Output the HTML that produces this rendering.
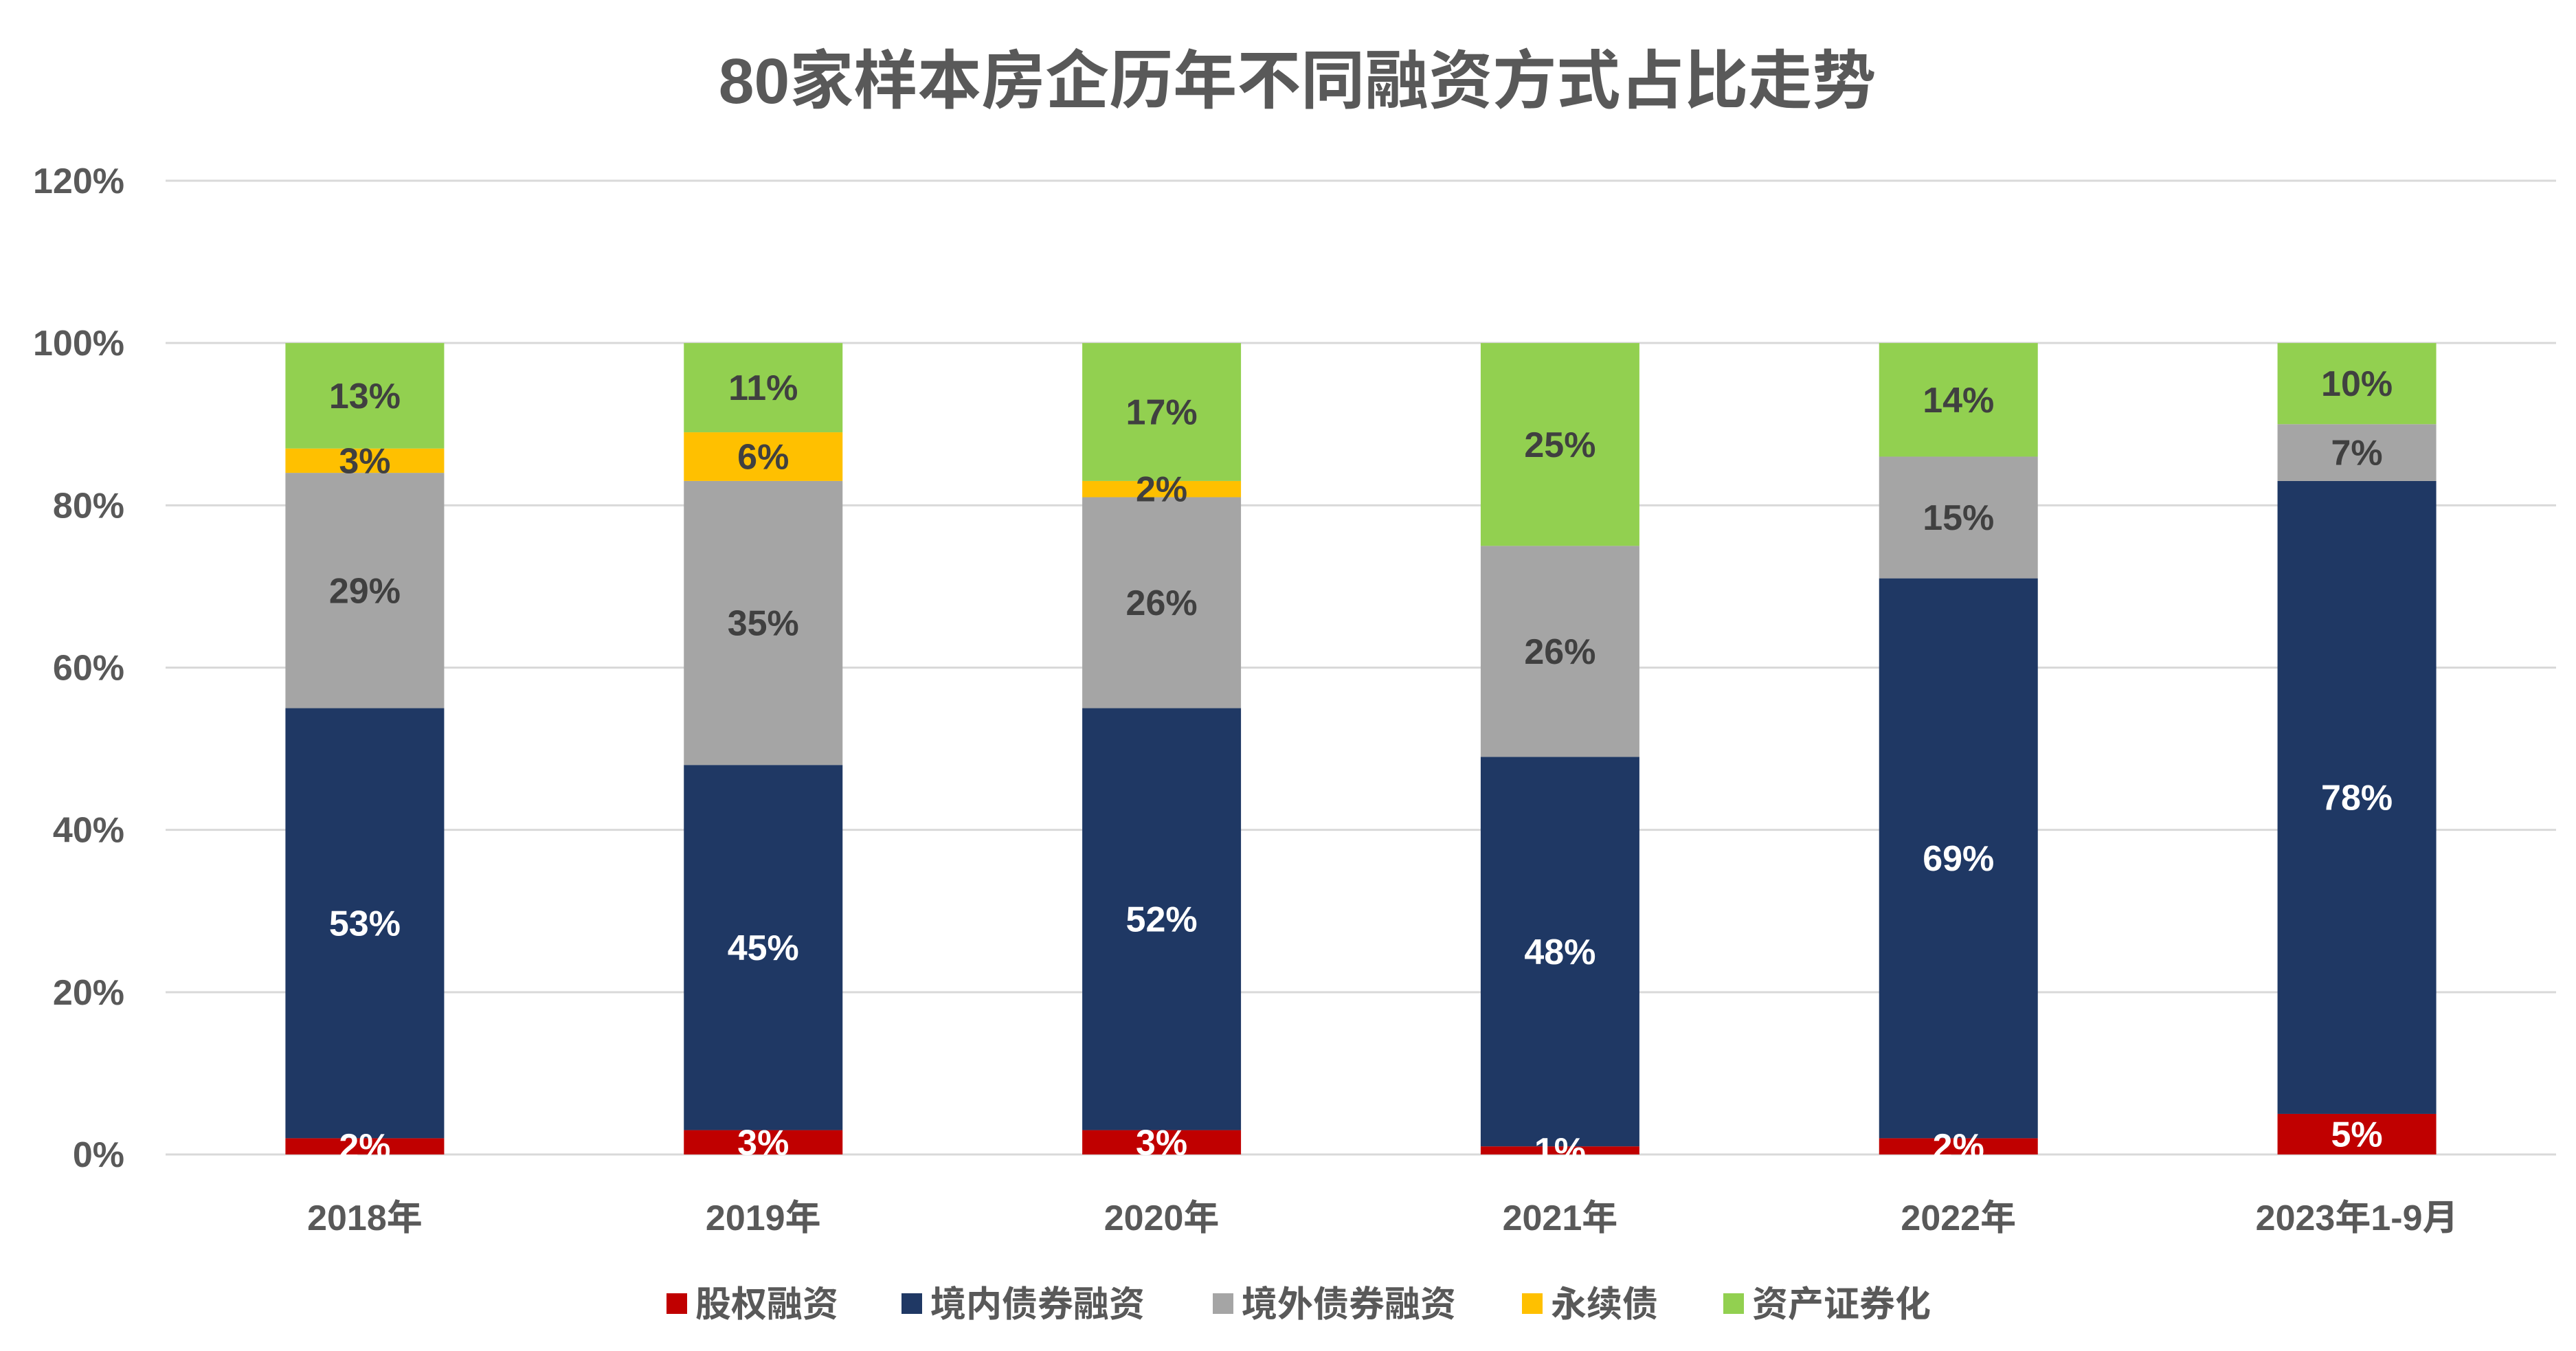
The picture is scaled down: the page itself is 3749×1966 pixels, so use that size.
<!DOCTYPE html>
<html><head><meta charset="utf-8"><style>
html,body{margin:0;padding:0;background:#fff;}
svg{display:block;font-family:"Liberation Sans","Noto Sans CJK SC",sans-serif;}
</style></head><body>
<svg id="chart" width="3749" height="1966" viewBox="0 0 3749 1966">
<rect width="3749" height="1966" fill="#fff"/>
<text x="1888" y="150" text-anchor="middle" font-size="93" font-weight="bold" fill="#595959">80家样本房企历年不同融资方式占比走势</text>
<g id="grid"></g><g id="bars"></g><g id="labels"></g><g id="legend"></g>
</svg>
<script>
const categories = ["2018年","2019年","2020年","2021年","2022年","2023年1-9月"];
const seriesNames = ["股权融资","境内债券融资","境外债券融资","永续债","资产证券化"];
const equity = [2,3,3,1,2,5];
const domestic = [53,45,52,48,69,78];
const overseas = [29,35,26,26,15,7];
const perpetual = [3,6,2,0,0,0];
const abs = [13,11,17,25,14,10];
const yTicks = [0,20,40,60,80,100,120];
const yTickLabels = ["0%","20%","40%","60%","80%","100%","120%"];

const series = [equity, domestic, overseas, perpetual, abs];
const colors = ["#C00000","#1F3864","#A5A5A5","#FFC000","#92D050"];
const labelColors = ["#fff","#fff","#404040","#404040","#404040"];
const ns = "http://www.w3.org/2000/svg";
const y0 = 1680, pxPer = (1680-263)/120;
const left = 241, right = 3720, barW = 231;
const y = v => y0 - v*pxPer;
const x = i => left + (right-left)/categories.length*(i+0.5);
function mk(tag, attrs, parent, text){
  const e = document.createElementNS(ns, tag);
  for (const k in attrs) e.setAttribute(k, attrs[k]);
  if (text !== undefined) e.textContent = text;
  document.getElementById(parent).appendChild(e);
  return e;
}
yTicks.forEach((t,i)=>{
  const g = mk("line",{x1:left,x2:right,y1:y(t),y2:y(t),stroke:"#D9D9D9","stroke-width":3},"grid");
  
  
  const l = mk("text",{x:181,y:y(t)+18,"text-anchor":"end","font-size":52,"font-weight":"bold",fill:"#595959"},"grid",yTickLabels[i]);
  
  
});
categories.forEach((c,i)=>{
  let cum = 0;
  series.forEach((s,k)=>{
    const v = s[i];
    if (v > 0) {
      const r = mk("rect",{x:x(i)-barW/2,y:y(cum+v),width:barW,height:v*pxPer,fill:colors[k]},"bars");
      
      
      const t = mk("text",{x:x(i),y:y(cum+v/2)+18,"text-anchor":"middle","font-size":52,"font-weight":"bold",fill:labelColors[k]},"labels",v+"%");
      
      
    }
    cum += v;
  });
  const xl = mk("text",{x:x(i),y:1790,"text-anchor":"middle","font-size":52,"font-weight":"bold",fill:"#595959"},"labels",c);
  
  
});
const legX = [970,1312,1765,2215,2508];
seriesNames.forEach((n,k)=>{
  const m = mk("rect",{x:legX[k],y:1882,width:30,height:30,fill:colors[k]},"legend");
  
  
  const t = mk("text",{x:legX[k]+42,y:1916,"font-size":52,"font-weight":"bold",fill:"#595959"},"legend",n);
  
  
});
</script>
</body></html>
